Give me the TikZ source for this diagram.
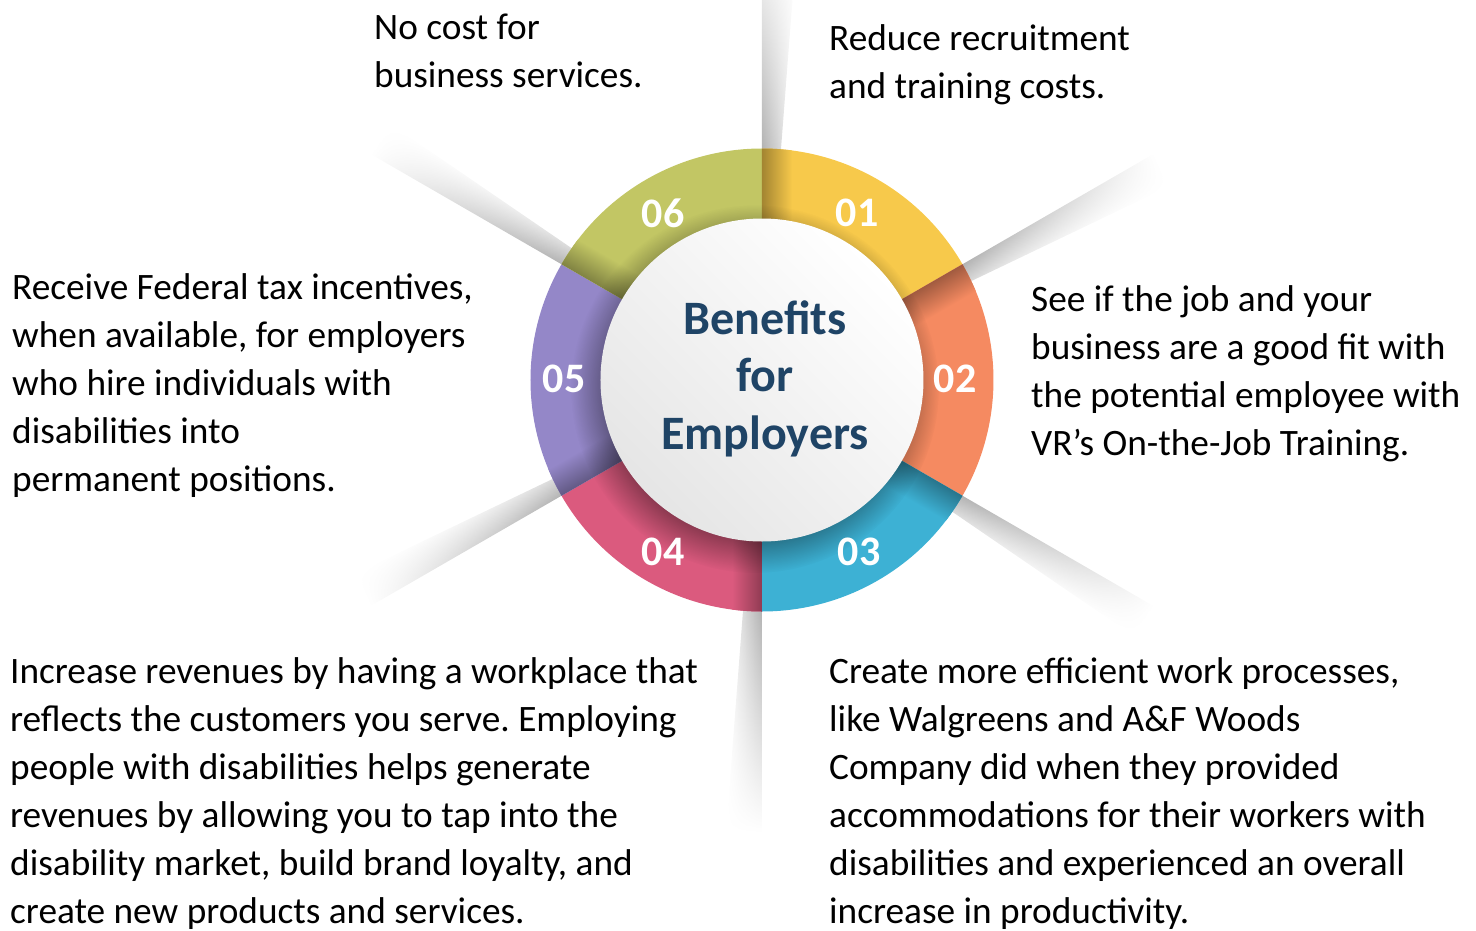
\documentclass[tikz,border=0pt]{standalone}
\usepackage{fontspec}
\setmainfont{Carlito}
\usetikzlibrary{fadings}
\frenchspacing
\definecolor{cA}{HTML}{F7C94B}
\definecolor{cB}{HTML}{F58A61}
\definecolor{cC}{HTML}{3DB1D4}
\definecolor{cD}{HTML}{DB5A7E}
\definecolor{cE}{HTML}{9487C8}
\definecolor{cF}{HTML}{C2C664}
\definecolor{ctitle}{HTML}{1F4466}
\tikzset{
  body/.style={anchor=base west, inner sep=0pt, font=\fontsize{37.3}{48}\selectfont, text=black},
  num/.style={inner sep=0pt, font=\bfseries\fontsize{42}{42}\selectfont, text=white},
  title/.style={anchor=base, inner sep=0pt, font=\bfseries\fontsize{48}{57.5}\selectfont, text=ctitle}
}
\begin{document}
\begin{tikzpicture}[x=1pt,y=1pt]
\useasboundingbox (-762,-550) rectangle (714,380);
% light rays (shadows cast beyond the ring)
\foreach \a in {90,30,-30,-90,-150,150} {
  \begin{scope}[transform canvas={rotate=\a}]
    \shade[top color=black!30, middle color=black!7, bottom color=white, path fading=east]
      (231,0) -- (452,0) -- (452,-36) -- (231,-19) -- cycle;
  \end{scope}
}
% ring segments
\foreach \s/\e/\c in {90/30/cA, 30/-30/cB, -30/-90/cC, -90/-150/cD, -150/-210/cE, 150/90/cF}
  \fill[\c] (0,0) -- (\s:231.5) arc[start angle=\s, end angle=\e, radius=231.5] -- cycle;
% edge shadows inside the ring
\foreach \a/\c in {90/cA, 30/cB, -30/cC, -90/cD, -150/cE, 150/cF} {
  \begin{scope}[transform canvas={rotate=\a}]
    \clip (0,0) circle (231.5);
    \shade[top color=\c!66!black, middle color=\c, bottom color=\c] (140,0) rectangle (236,-30);
  \end{scope}
}
% drop shadow of the hub
\fill[black, opacity=0.38, path fading=circle with fuzzy edge 20 percent] (-7,-9) circle (184);
% hub
\shade[top color=white, bottom color=black!10, shading angle=-45] (0,0) circle (161.5);
% numbers
\node[num] (n01) at (95,167) {01};
\node[num] (n02) at (193,1) {02};
\node[num] (n03) at (97,-172) {03};
\node[num] (n04) at (-99,-172) {04};
\node[num] (n05) at (-198,1) {05};
\node[num] (n06) at (-99,167) {06};
% title
\node[title] (hubtext) at (3,46) {\begin{tabular}[t]{@{}c@{}}Benefits\\for\\Employers\end{tabular}};
% texts
\node[body] (t06) at (-388,340) {\begin{tabular}[t]{@{}l@{}}No cost for\\business services.\end{tabular}};
\node[body] (t01) at (67,329) {\begin{tabular}[t]{@{}l@{}}Reduce recruitment\\and training costs.\end{tabular}};
\node[body] (t02) at (269,69) {\begin{tabular}[t]{@{}l@{}}See if the job and your\\business are a good fit with\\the potential employee with\\VR’s On-the-Job Training.\end{tabular}};
\node[body] (t05) at (-750,81) {\begin{tabular}[t]{@{}l@{}}Receive Federal tax incentives,\\when available, for employers\\who hire individuals with\\disabilities into\\permanent positions.\end{tabular}};
\node[body] (t04) at (-752,-303) {\begin{tabular}[t]{@{}l@{}}Increase revenues by having a workplace that\\reflects the customers you serve. Employing\\people with disabilities helps generate\\revenues by allowing you to tap into the\\disability market, build brand loyalty, and\\create new products and services.\end{tabular}};
\node[body] (t03) at (67,-303) {\begin{tabular}[t]{@{}l@{}}Create more efficient work processes,\\like Walgreens and A\&F Woods\\Company did when they provided\\accommodations for their workers with\\disabilities and experienced an overall\\increase in productivity.\end{tabular}};
\end{tikzpicture}
\end{document}
